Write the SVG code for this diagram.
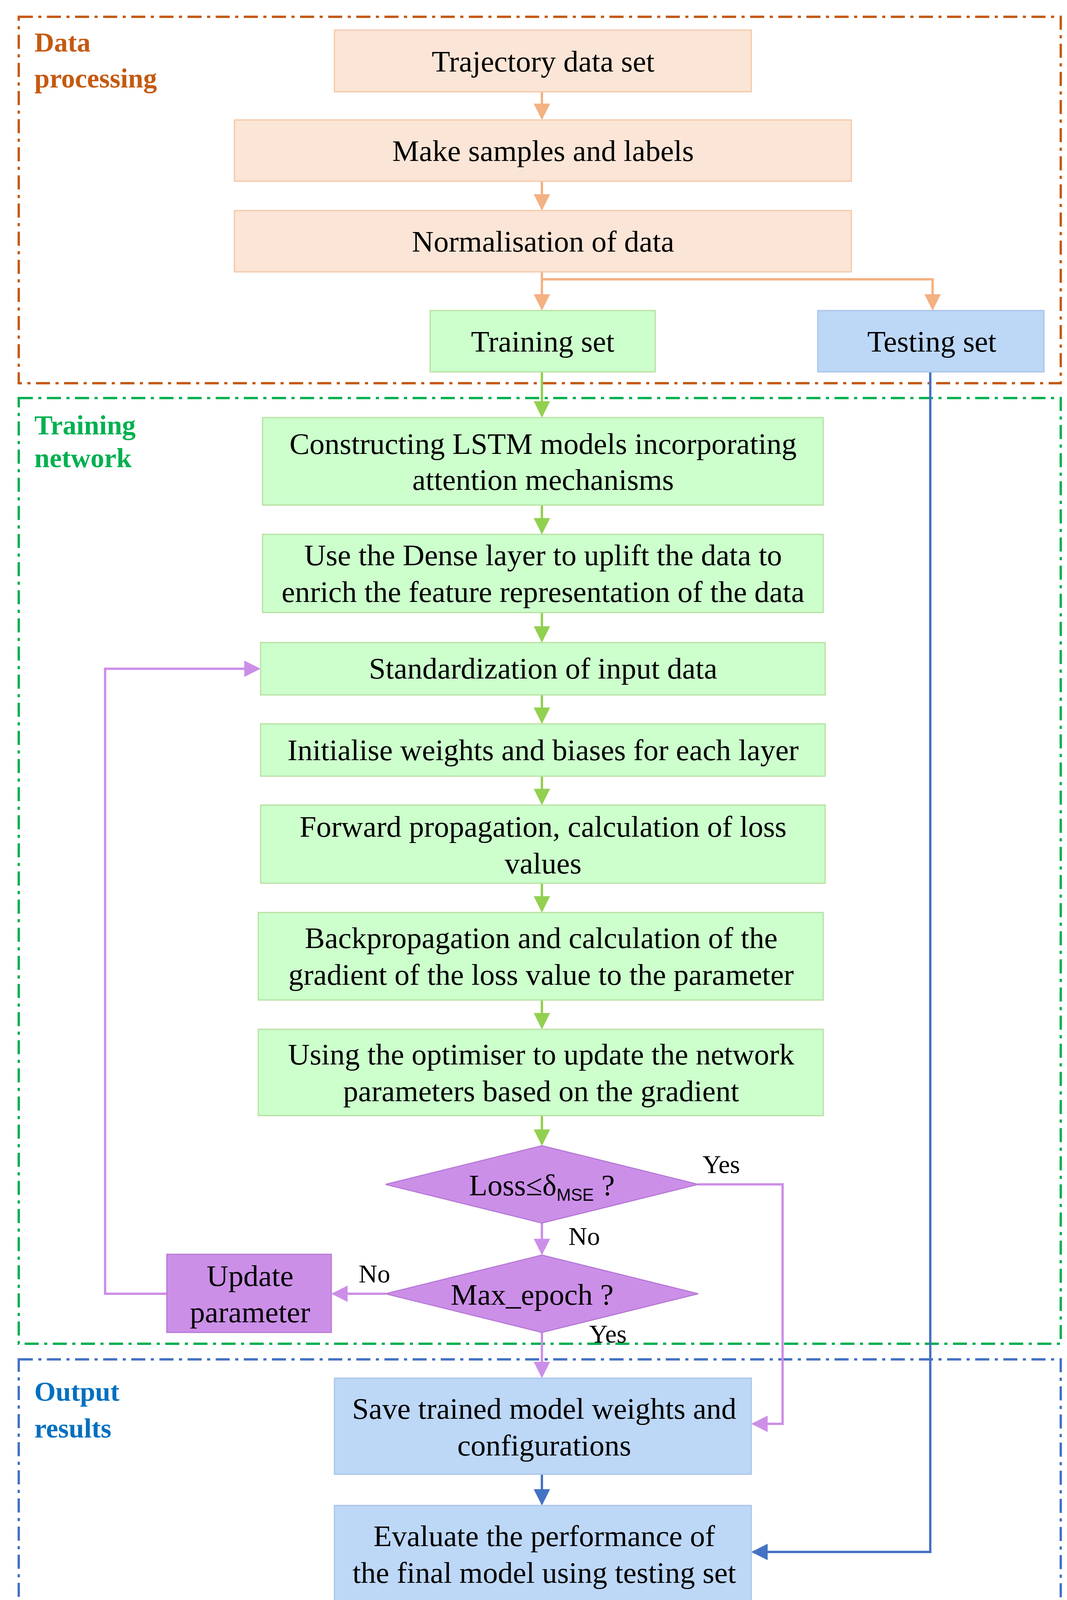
<svg xmlns="http://www.w3.org/2000/svg" width="2731" height="4148" viewBox="0 0 2731 4148">
<style>
text{font-family:"Liberation Serif","Times New Roman",serif;font-size:77px;fill:#000;text-anchor:middle}
.lbl{font-weight:bold;font-size:70px;text-anchor:start}
.sec{fill:none;stroke-width:6;stroke-dasharray:36 14 8 14}
.p{fill:#FBE5D6;stroke:#F4C7A6;stroke-width:3}
.g{fill:#CCFFCC;stroke:#B7DFA0;stroke-width:3}
.b{fill:#BDD7F7;stroke:#A9C4E8;stroke-width:3}
.u{fill:#CC8FE8;stroke:#B77AD6;stroke-width:3}
.lo{fill:none;stroke:#F4B183;stroke-width:6}
.lg{fill:none;stroke:#92D050;stroke-width:6}
.lu{fill:none;stroke:#CC8FE8;stroke-width:6}
.lb{fill:none;stroke:#4472C4;stroke-width:6}
.sm{font-size:66px;text-anchor:start}
</style>
<defs>
<marker id="ao" viewBox="0 0 10 10" refX="9" refY="5" markerWidth="7" markerHeight="7" markerUnits="strokeWidth" orient="auto"><path d="M0,0L10,5L0,10z" fill="#F4B183"/></marker>
<marker id="ag" viewBox="0 0 10 10" refX="9" refY="5" markerWidth="7" markerHeight="7" markerUnits="strokeWidth" orient="auto"><path d="M0,0L10,5L0,10z" fill="#92D050"/></marker>
<marker id="au" viewBox="0 0 10 10" refX="9" refY="5" markerWidth="7" markerHeight="7" markerUnits="strokeWidth" orient="auto"><path d="M0,0L10,5L0,10z" fill="#CC8FE8"/></marker>
<marker id="ab" viewBox="0 0 10 10" refX="9" refY="5" markerWidth="7" markerHeight="7" markerUnits="strokeWidth" orient="auto"><path d="M0,0L10,5L0,10z" fill="#4472C4"/></marker>
</defs>
<rect width="2731" height="4148" fill="#fff"/>
<g id="sections">
<rect class="sec" x="48" y="43" width="2667" height="938" stroke="#C55A11"/>
<text class="lbl" x="88" y="132" style="fill:#C55A11">Data</text>
<text class="lbl" x="88" y="224" style="fill:#C55A11">processing</text>
<rect class="sec" x="48" y="1019" width="2667" height="2421" stroke="#00B050"/>
<text class="lbl" x="88" y="1112" style="fill:#00B050">Training</text>
<text class="lbl" x="88" y="1196" style="fill:#00B050">network</text>
<rect class="sec" x="48" y="3480" width="2667" height="661" stroke="#4472C4"/>
<text class="lbl" x="88" y="3586" style="fill:#0070C0">Output</text>
<text class="lbl" x="88" y="3680" style="fill:#0070C0">results</text>
</g>
<g id="connectors">
<path class="lo" d="M1387,235V303" marker-end="url(#ao)"/>
<path class="lo" d="M1387,464V535" marker-end="url(#ao)"/>
<path class="lo" d="M1387,696V791" marker-end="url(#ao)"/>
<path class="lo" d="M1387,715H2387V791" marker-end="url(#ao)"/>
<path class="lg" d="M1387,952V1065" marker-end="url(#ag)"/>
<path class="lg" d="M1387,1293V1364" marker-end="url(#ag)"/>
<path class="lg" d="M1387,1568V1641" marker-end="url(#ag)"/>
<path class="lg" d="M1387,1779V1849" marker-end="url(#ag)"/>
<path class="lg" d="M1387,1987V2057" marker-end="url(#ag)"/>
<path class="lg" d="M1387,2261V2332" marker-end="url(#ag)"/>
<path class="lg" d="M1387,2560V2631" marker-end="url(#ag)"/>
<path class="lg" d="M1387,2856V2929" marker-end="url(#ag)"/>
<path class="lu" d="M1387,3131V3209" marker-end="url(#au)"/>
<path class="lu" d="M1787,3032H2003V3645H1927" marker-end="url(#au)"/>
<path class="lu" d="M987,3312H852" marker-end="url(#au)"/>
<path class="lu" d="M1387,3411V3524" marker-end="url(#au)"/>
<path class="lu" d="M427,3312H269V1712H663" marker-end="url(#au)"/>
<path class="lb" d="M1387,3774V3850" marker-end="url(#ab)"/>
<path class="lb" d="M2381,952V3973H1927" marker-end="url(#ab)"/>
<text class="sm" x="1798" y="3003">Yes</text>
<text class="sm" x="1455" y="3187">No</text>
<text class="sm" x="918" y="3283">No</text>
<text class="sm" x="1508" y="3437">Yes</text>
</g>
<g id="n1"><rect class="p" x="856" y="77" width="1067" height="158"/><text x="1390" y="183">Trajectory data set</text></g>
<g id="n2"><rect class="p" x="600" y="307" width="1579" height="157"/><text x="1390" y="412">Make samples and labels</text></g>
<g id="n3"><rect class="p" x="600" y="539" width="1579" height="157"/><text x="1390" y="644">Normalisation of data</text></g>
<g id="n4"><rect class="g" x="1101" y="795" width="576" height="157"/><text x="1389" y="900">Training set</text></g>
<g id="n5"><rect class="b" x="2093" y="795" width="579" height="157"/><text x="2385" y="900">Testing set</text></g>
<g id="n6"><rect class="g" x="672" y="1069" width="1435" height="224"/><text x="1390" y="1162">Constructing LSTM models incorporating</text><text x="1390" y="1254">attention mechanisms</text></g>
<g id="n7"><rect class="g" x="672" y="1368" width="1435" height="200"/><text x="1390" y="1447">Use the Dense layer to uplift the data to</text><text x="1390" y="1541">enrich the feature representation of the data</text></g>
<g id="n8"><rect class="g" x="667" y="1645" width="1445" height="134"/><text x="1390" y="1737">Standardization of input data</text></g>
<g id="n9"><rect class="g" x="667" y="1853" width="1445" height="134"/><text x="1390" y="1946">Initialise weights and biases for each layer</text></g>
<g id="n10"><rect class="g" x="667" y="2061" width="1445" height="200"/><text x="1390" y="2142">Forward propagation, calculation of loss</text><text x="1390" y="2236">values</text></g>
<g id="n11"><rect class="g" x="661" y="2336" width="1446" height="224"/><text x="1385" y="2427">Backpropagation and calculation of the</text><text x="1385" y="2521">gradient of the loss value to the parameter</text></g>
<g id="n12"><rect class="g" x="661" y="2635" width="1446" height="221"/><text x="1385" y="2725">Using the optimiser to update the network</text><text x="1385" y="2819">parameters based on the gradient</text></g>
<g id="n13"><polygon class="u" points="987,3032 1387,2933 1787,3032 1387,3131"/><text x="1387" y="3060">Loss≤δ<tspan font-size="44" font-family="Liberation Sans,sans-serif" dy="14">MSE</tspan><tspan dy="-14"> ?</tspan></text></g>
<g id="n14"><polygon class="u" points="987,3312 1387,3213 1787,3312 1387,3411"/><text x="1362" y="3340">Max_epoch ?</text></g>
<g id="n15"><rect class="u" x="427" y="3211" width="421" height="200"/><text x="640" y="3292">Update</text><text x="640" y="3385">parameter</text></g>
<g id="n16"><rect class="b" x="856" y="3528" width="1067" height="246"/><text x="1393" y="3632">Save trained model weights and</text><text x="1393" y="3726">configurations</text></g>
<g id="n17"><rect class="b" x="856" y="3854" width="1067" height="245"/><text x="1393" y="3958">Evaluate the performance of</text><text x="1393" y="4052">the final model using testing set</text></g>
</svg>
